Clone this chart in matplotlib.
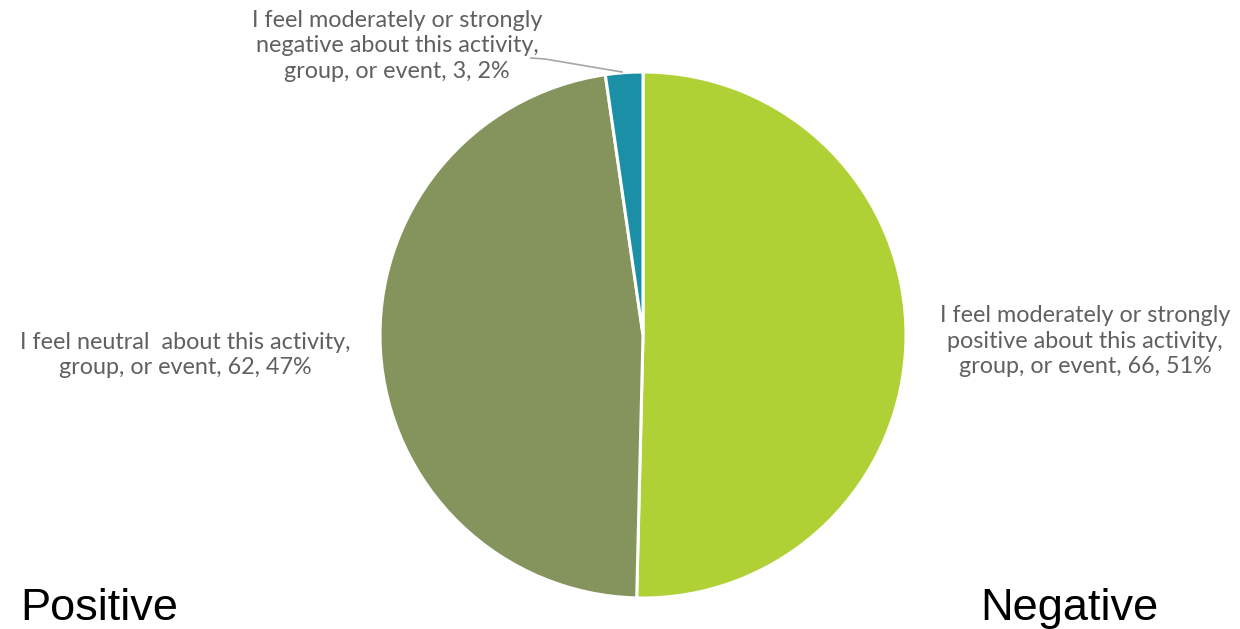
import matplotlib
matplotlib.use("Agg")
import matplotlib.pyplot as plt

# slice data (clockwise from 12 o'clock)
counts = [66, 62, 3]
percents = [51, 47, 2]
labels = [
    "I feel moderately or strongly\npositive about this activity,\ngroup, or event",
    "I feel neutral  about this activity,\ngroup, or event",
    "I feel moderately or strongly\nnegative about this activity,\ngroup, or event",
]
colors = ["#B0D136", "#84945C", "#1A8FA6"]

W, H = 1240, 629
fig = plt.figure(figsize=(W / 100, H / 100), dpi=100)

cx, cy, r = 643, 335, 263
ax = fig.add_axes([(cx - r) / W, (H - cy - r) / H, 2 * r / W, 2 * r / H])
ax.pie(counts, colors=colors, startangle=90, counterclock=False, radius=1,
       wedgeprops={"edgecolor": "white", "linewidth": 2.2})
ax.set_xlim(-1, 1)
ax.set_ylim(-1, 1)
ax.set_aspect("equal")
ax.axis("off")

txt = dict(fontsize=16.8, color="#606060", family=["Lato", "DejaVu Sans"],
           fontweight="normal", ha="center", va="center", linespacing=1.24)
lab = [f"{l}, {c}, {p}%" for l, c, p in zip(labels, counts, percents)]
fig.text(1085 / W, 1 - 341 / H, lab[0], **txt)
fig.text(185 / W, 1 - 355 / H, lab[1], **txt)
fig.text(397 / W, 1 - 46 / H, lab[2], **txt)

# leader line for the small slice
fig.add_artist(plt.Line2D([531 / W, 545 / W, 622 / W],
                          [1 - 58 / H, 1 - 59 / H, 1 - 72 / H],
                          transform=fig.transFigure, color="#A6A6A6", lw=1.2))

big = dict(fontsize=32.5, color="black", family=["Liberation Sans", "DejaVu Sans"],
           va="baseline")
fig.text(20 / W, 1 - 620 / H, "Positive", ha="left", **big)
fig.text(980 / W, 1 - 620 / H, "Negative", ha="left", **big)

fig.savefig("out.png", dpi=100, facecolor="white")
